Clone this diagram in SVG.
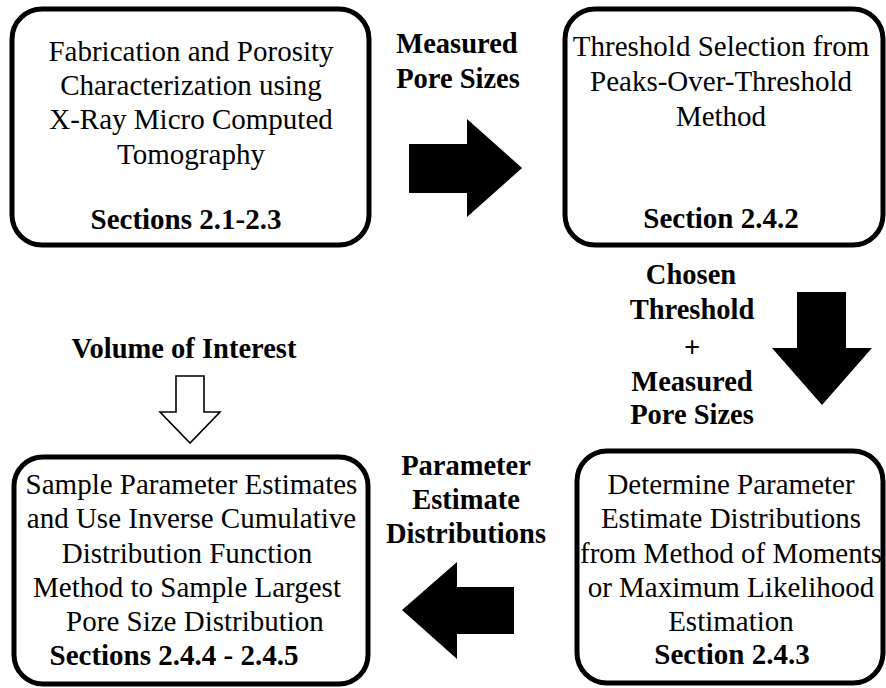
<svg xmlns="http://www.w3.org/2000/svg" width="886" height="688" viewBox="0 0 886 688">
<style>
.box{fill:#fff;stroke:#000;stroke-width:5}
.t{font-family:"Liberation Serif","Times New Roman",serif;font-size:29px;fill:#000;text-anchor:middle}
.b{font-weight:bold}
.lbl{font-family:"Liberation Serif","Times New Roman",serif;font-size:28.5px;font-weight:bold;fill:#000;text-anchor:middle}
.solid{fill:#000}
.open{fill:#fff;stroke:#000;stroke-width:1.6}
</style>
<rect width="886" height="688" fill="#fff"/>
<g id="node1">
<rect class="box" x="12" y="9" width="357" height="236" rx="30"/>
<text class="t" x="191" y="61">Fabrication and Porosity</text>
<text class="t" x="191" y="95">Characterization using</text>
<text class="t" x="191" y="129">X-Ray Micro Computed</text>
<text class="t" x="191" y="163.5">Tomography</text>
<text class="t b" x="186" y="229">Sections 2.1-2.3</text>
</g>
<g id="node2">
<rect class="box" x="565" y="9" width="318" height="236" rx="30"/>
<text class="t" x="721" y="56">Threshold Selection from</text>
<text class="t" x="721" y="91">Peaks-Over-Threshold</text>
<text class="t" x="721" y="125.5">Method</text>
<text class="t b" x="721" y="228">Section 2.4.2</text>
</g>
<g id="node3">
<rect class="box" x="577" y="451" width="306" height="232" rx="30"/>
<text class="t" x="731" y="494">Determine Parameter</text>
<text class="t" x="731" y="528">Estimate Distributions</text>
<text class="t" x="731" y="562.5">from Method of Moments</text>
<text class="t" x="731" y="597">or Maximum Likelihood</text>
<text class="t" x="731" y="631">Estimation</text>
<text class="t b" x="732" y="664">Section 2.4.3</text>
</g>
<g id="node4">
<rect class="box" x="14" y="457" width="354" height="227" rx="29"/>
<text class="t" x="191.5" y="494">Sample Parameter Estimates</text>
<text class="t" x="191.5" y="528">and Use Inverse Cumulative</text>
<text class="t" x="187" y="562.5">Distribution Function</text>
<text class="t" x="187" y="597">Method to Sample Largest</text>
<text class="t" x="195" y="631">Pore Size Distribution</text>
<text class="t b" x="174" y="665">Sections 2.4.4 - 2.4.5</text>
</g>
<g id="connectors">
<g id="arrow-measured">
<polygon class="solid" points="409,144 467,144 467,119 522,168 467,217 467,193 409,193"/>
<text class="lbl" x="457" y="53">Measured</text>
<text class="lbl" x="458" y="88">Pore Sizes</text>
</g>
<g id="arrow-threshold">
<polygon class="solid" points="797,292 846,292 846,348 872,348 822,405 772,348 797,348"/>
<text class="lbl" x="691" y="284">Chosen</text>
<text class="lbl" x="692" y="319">Threshold</text>
<text class="lbl" x="692" y="357">+</text>
<text class="lbl" x="692" y="391">Measured</text>
<text class="lbl" x="692" y="424">Pore Sizes</text>
</g>
<g id="arrow-params">
<polygon class="solid" points="514,587 457,587 457,562 402,610 457,659 457,634 514,634"/>
<text class="lbl" x="466" y="475">Parameter</text>
<text class="lbl" x="466" y="509">Estimate</text>
<text class="lbl" x="466" y="543">Distributions</text>
</g>
<g id="arrow-volume">
<polygon class="open" points="176,376 204,376 204,412 220,412 190,443 160,412 176,412"/>
<text class="lbl" x="184" y="358">Volume of Interest</text>
</g>
</g>
</svg>
